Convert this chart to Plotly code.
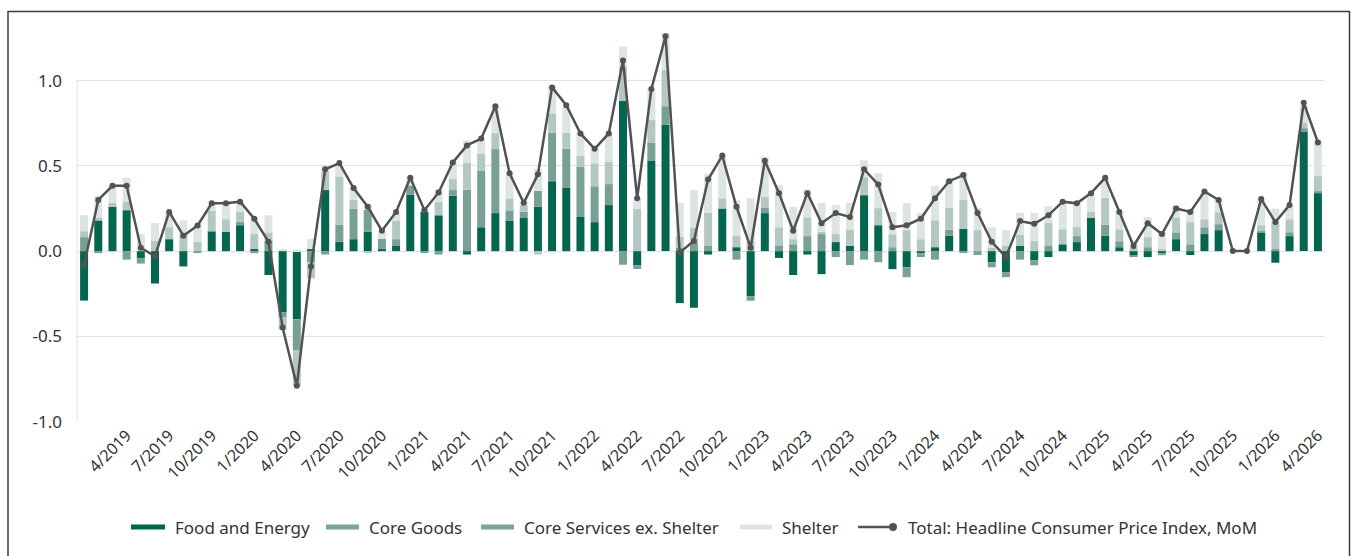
import plotly.graph_objects as go

# Monthly contributions to headline CPI (percentage points), 1/2019 - 4/2026
months = [f"{m}/{y}" for y in range(2019, 2027) for m in range(1, 13)][:88]

food_energy = [
    -0.29, 0.18, 0.26, 0.24, -0.04, -0.19, 0.07, -0.09, 0.0, 0.113, 0.113, 0.152, 0.012, -0.14,
    -0.36, -0.40, 0.012, 0.358, 0.055, 0.07, 0.113, 0.012, 0.03, 0.33, 0.23, 0.21, 0.325, -0.02, 0.14,
    0.223, 0.18, 0.194, 0.26, 0.41, 0.37, 0.2, 0.17, 0.27, 0.88, -0.082, 0.528, 0.74, -0.305, -0.332,
    -0.02, 0.25, 0.023, -0.264, 0.223, -0.04, -0.14, -0.02, -0.135, 0.053, 0.03, 0.328, 0.152, -0.106, -0.094,
    -0.012, 0.023, 0.09, 0.13, 0.0, -0.065, -0.123, 0.03, -0.053, -0.035, 0.04, 0.053, 0.194, 0.09,
    0.023, -0.025, -0.035, -0.012, 0.07, -0.023, 0.1, 0.123, 0.0, 0.0, 0.111, -0.068, 0.088, 0.698, 0.34,
]
core_goods = [
    0.082, -0.012, 0.0, -0.05, -0.033, 0.0, 0.0, 0.0, -0.01, 0.005, 0.0, 0.02, -0.012, 0.06,
    -0.03, -0.18, -0.066, -0.02, 0.10, 0.18, 0.13, 0.059, 0.04, 0.055, -0.01, -0.02, 0.033, 0.36, 0.33,
    0.375, 0.059, 0.037, 0.094, 0.285, 0.229, 0.293, 0.21, 0.123, -0.08, -0.023, 0.106, 0.11, 0.02, 0.055,
    0.03, 0.0, -0.05, -0.027, 0.03, 0.03, 0.04, 0.088, 0.1, -0.035, -0.082, -0.05, -0.065, 0.023, -0.059,
    -0.023, -0.05, 0.035, -0.012, -0.023, -0.03, -0.03, -0.05, -0.03, 0.03, 0.0, 0.035, 0.0, 0.065,
    0.035, -0.006, 0.023, -0.012, 0.04, 0.04, 0.04, 0.035, 0.0, 0.0, 0.006, 0.012, 0.023, 0.023, 0.012,
]
core_services = [
    0.035, 0.016, 0.023, 0.05, 0.0, 0.06, 0.07, 0.1, 0.055, 0.12, 0.074, 0.059, 0.088, 0.05,
    -0.07, -0.21, -0.094, 0.11, 0.28, 0.05, -0.01, 0.0, 0.107, 0.0, 0.0, 0.078, 0.068, 0.16, 0.1,
    0.094, 0.07, 0.04, -0.02, 0.113, 0.094, 0.065, 0.135, 0.129, 0.20, 0.25, 0.135, 0.213, 0.066, 0.084,
    0.194, 0.06, 0.065, 0.06, 0.065, 0.11, 0.03, 0.11, 0.012, 0.047, 0.094, 0.105, 0.1, 0.076, 0.123,
    0.07, 0.158, 0.13, 0.17, 0.123, 0.02, 0.03, 0.065, 0.06, 0.135, 0.088, 0.053, 0.035, 0.158,
    0.07, 0.02, 0.059, 0.012, 0.088, 0.13, 0.047, 0.07, 0.0, 0.0, 0.035, 0.158, 0.076, 0.033, 0.088,
]
shelter = [
    0.094, 0.13, 0.10, 0.14, 0.1, 0.105, 0.09, 0.08, 0.1, 0.04, 0.094, 0.059, 0.10, 0.1,
    0.012, 0.01, 0.06, 0.035, 0.066, 0.07, 0.033, 0.047, 0.049, 0.05, 0.02, 0.075, 0.09, 0.13, 0.088,
    0.16, 0.15, 0.02, 0.127, 0.16, 0.15, 0.135, 0.086, 0.168, 0.12, 0.06, 0.18, 0.217, 0.196, 0.219,
    0.229, 0.248, 0.21, 0.25, 0.235, 0.246, 0.19, 0.164, 0.17, 0.17, 0.158, 0.1, 0.205, 0.13, 0.158,
    0.153, 0.2, 0.17, 0.162, 0.13, 0.12, 0.094, 0.13, 0.164, 0.1, 0.152, 0.14, 0.11, 0.111,
    0.1, 0.04, 0.117, 0.1, 0.07, 0.076, 0.152, 0.07, 0.0, 0.0, 0.152, 0.08, 0.082, 0.1, 0.21,
]
headline = [
    -0.08, 0.30, 0.383, 0.383, 0.02, -0.03, 0.23, 0.09, 0.15, 0.28, 0.28, 0.29, 0.19, 0.055,
    -0.448, -0.79, -0.09, 0.48, 0.516, 0.37, 0.26, 0.12, 0.23, 0.43, 0.24, 0.344, 0.52, 0.62, 0.66,
    0.85, 0.457, 0.283, 0.45, 0.96, 0.856, 0.69, 0.60, 0.69, 1.118, 0.31, 0.95, 1.26, -0.008, 0.06,
    0.42, 0.56, 0.26, 0.02, 0.53, 0.34, 0.12, 0.34, 0.164, 0.223, 0.2, 0.48, 0.39, 0.14, 0.152,
    0.19, 0.31, 0.41, 0.446, 0.223, 0.055, -0.035, 0.176, 0.16, 0.21, 0.29, 0.28, 0.34, 0.43,
    0.23, 0.03, 0.164, 0.1, 0.25, 0.23, 0.35, 0.30, 0.0, 0.0, 0.305, 0.17, 0.27, 0.87, 0.637,
]

tick_labels = [m for m in months if m.split("/")[0] in ("1", "4", "7", "10")][1:]

FONT = "Noto Sans"
TXT = "#333333"
C_FE, C_CG, C_CS, C_SH = "#04664F", "#78A095", "#B4C8C2", "#DCE5E2"
C_LEG_MID = "#7FA59A"
C_LINE = "#525252"
TOTAL_NAME = "Total: Headline Consumer Price Index, MoM"

fig = go.Figure()

series = [
    ("Food and Energy", food_energy, C_FE, C_FE),
    ("Core Goods", core_goods, C_CG, C_LEG_MID),
    ("Core Services ex. Shelter", core_services, C_CS, C_LEG_MID),
    ("Shelter", shelter, C_SH, C_SH),
]
for name, vals, col, _ in series:
    fig.add_trace(go.Bar(x=months, y=vals, name=name, marker=dict(color=col, line_width=0),
                         showlegend=False))

fig.add_trace(go.Scatter(x=months, y=headline, mode="lines+markers", name=TOTAL_NAME,
                         showlegend=False, line=dict(color=C_LINE, width=2.5),
                         marker=dict(color=C_LINE, size=6)))

W, H = 1351, 556
ML, MR, MT, MB = 77, 26, 26, 134
pw, ph = W - ML - MR, H - MT - MB

def px_x(p):
    return (p - ML) / pw

def px_y(p):
    return (H - MB - p) / ph

shapes = [
    # short value axis line spanning the labelled range
    dict(type="line", xref="paper", yref="y", x0=0, x1=0, y0=-1.0, y1=1.0,
         line=dict(color="#E3E3E3", width=1), layer="below"),
    # frame around the chart
    dict(type="rect", xref="paper", yref="paper",
         x0=px_x(8), x1=px_x(1349.5), y0=px_y(570), y1=px_y(11.5),
         line=dict(color="#3C3C3C", width=1.5), fillcolor="rgba(0,0,0,0)", layer="above"),
]
annotations = []

# legend row: stroke start, stroke end, text start (pixels)
LEG_Y = 527
legend_slots = [(131, 165, 173), (326, 359, 367), (481, 514, 522), (740, 772, 780)]
for (name, _, _, lcol), (s0, s1, t0) in zip(series, legend_slots):
    shapes.append(dict(type="line", xref="paper", yref="paper",
                       x0=px_x(s0), x1=px_x(s1), y0=px_y(LEG_Y), y1=px_y(LEG_Y),
                       line=dict(color=lcol, width=5)))
    annotations.append(dict(text=name, xref="paper", yref="paper", x=px_x(t0), y=px_y(LEG_Y),
                            xanchor="left", yanchor="middle", showarrow=False,
                            font=dict(family=FONT, size=17, color=TXT)))
shapes.append(dict(type="line", xref="paper", yref="paper",
                   x0=px_x(858), x1=px_x(893), y0=px_y(LEG_Y), y1=px_y(LEG_Y),
                   line=dict(color=C_LINE, width=2.5)))
shapes.append(dict(type="circle", xref="paper", yref="paper",
                   x0=px_x(889), x1=px_x(897), y0=px_y(LEG_Y + 4), y1=px_y(LEG_Y - 4),
                   fillcolor=C_LINE, line=dict(color=C_LINE, width=0)))
annotations.append(dict(text=TOTAL_NAME, xref="paper", yref="paper", x=px_x(906), y=px_y(LEG_Y),
                        xanchor="left", yanchor="middle", showarrow=False,
                        font=dict(family=FONT, size=17, color=TXT)))

fig.update_layout(
    width=W, height=H,
    margin=dict(l=ML, r=MR, t=MT, b=MB, pad=0),
    paper_bgcolor="white", plot_bgcolor="white",
    barmode="relative", bargap=0.436,
    showlegend=False,
    font=dict(family=FONT, size=17, color=TXT),
    xaxis=dict(type="category", range=[-0.5, len(months) - 0.5],
               tickmode="array", tickvals=tick_labels, ticktext=tick_labels, tickangle=-45,
               showgrid=False, showline=False, zeroline=False, ticks="",
               tickfont=dict(family=FONT, size=16, color=TXT)),
    yaxis=dict(range=[-1.002, 1.32], tickvals=[-1.0, -0.5, 0.0, 0.5, 1.0],
               ticktext=["-1.0", "-0.5", "0.0", "0.5", "1.0"],
               showgrid=True, gridcolor="#E3E3E3", gridwidth=1, zeroline=False,
               showline=False, ticks="", ticklabelstandoff=14,
               tickfont=dict(family=FONT, size=17, color=TXT)),
    shapes=shapes,
    annotations=annotations,
)

fig.write_html("out.html")
